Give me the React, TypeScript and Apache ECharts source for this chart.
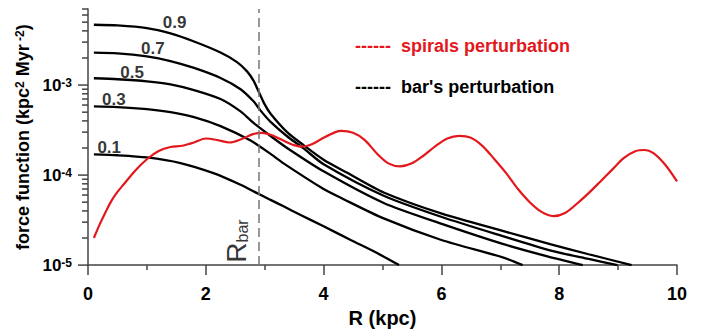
import React, { useEffect, useRef } from 'react';
import * as echarts from 'echarts';

const FONT = '"Liberation Sans", Arial, Helvetica, sans-serif';
const RED = '#e3171c';

const R_BAR = 2.9;
const X_MIN = 0;
const X_MAX = 10;
const X_INTERVAL = 2;
const Y_MIN = 1e-5;
const Y_MAX = 7e-3;
const Y_MAJOR = [1e-5, 1e-4, 1e-3];
const Y_MINOR = [
  2e-5, 3e-5, 4e-5, 5e-5, 6e-5, 7e-5, 8e-5, 9e-5,
  2e-4, 3e-4, 4e-4, 5e-4, 6e-4, 7e-4, 8e-4, 9e-4,
  2e-3, 3e-3, 4e-3, 5e-3, 6e-3, 7e-3,
];

// bar's perturbation, labelled by bar strength
const bar09: [number, number][] = [
  [0.1, 4.68e-3], [0.5, 4.6e-3], [1.0, 4.3e-3], [1.4, 3.75e-3], [1.8, 3.05e-3],
  [2.25, 2.3e-3], [2.53, 1.8e-3], [2.7, 1.42e-3], [2.81, 1.12e-3], [2.9, 8.4e-4],
  [3.0, 6.1e-4], [3.1, 4.8e-4], [3.38, 3.0e-4], [3.66, 2.15e-4], [4.0, 1.48e-4],
  [4.4, 1.06e-4], [5.02, 6.4e-5], [6.02, 3.7e-5], [7.04, 2.4e-5], [7.86, 1.7e-5],
  [8.5, 1.32e-5], [9.23, 1.0e-5],
];
const bar07: [number, number][] = [
  [0.1, 2.29e-3], [0.5, 2.25e-3], [1.0, 2.08e-3], [1.4, 1.85e-3], [1.8, 1.55e-3],
  [2.25, 1.2e-3], [2.59, 9.0e-4], [2.81, 6.6e-4], [2.93, 5.2e-4], [3.1, 3.9e-4],
  [3.38, 2.7e-4], [3.66, 1.98e-4], [4.0, 1.32e-4], [5.02, 5.9e-5], [6.02, 3.4e-5],
  [7.04, 2.1e-5], [7.86, 1.45e-5], [8.5, 1.17e-5], [8.99, 1.0e-5],
];
const bar05: [number, number][] = [
  [0.1, 1.19e-3], [0.5, 1.16e-3], [1.0, 1.1e-3], [1.4, 1.02e-3], [1.8, 8.8e-4],
  [2.25, 7.0e-4], [2.59, 5.1e-4], [2.81, 3.8e-4], [3.1, 2.72e-4], [3.38, 2.0e-4],
  [4.0, 1.1e-4], [5.02, 4.9e-5], [6.02, 2.85e-5], [7.04, 1.72e-5], [7.8, 1.25e-5],
  [8.4, 1.0e-5],
];
const bar03: [number, number][] = [
  [0.1, 5.8e-4], [0.5, 5.7e-4], [1.0, 5.4e-4], [1.4, 5.0e-4], [1.8, 4.4e-4],
  [2.25, 3.5e-4], [2.76, 2.42e-4], [3.1, 1.72e-4], [3.32, 1.35e-4], [4.0, 7.0e-5],
  [4.29, 5.6e-5], [5.02, 3.3e-5], [6.0, 1.9e-5], [7.04, 1.22e-5], [7.38, 1.0e-5],
];
const bar01: [number, number][] = [
  [0.1, 1.7e-4], [0.5, 1.66e-4], [1.0, 1.57e-4], [1.57, 1.36e-4], [2.13, 1.05e-4],
  [2.59, 7.8e-5], [2.87, 6.3e-5], [3.1, 5.3e-5], [3.32, 4.5e-5], [3.61, 3.6e-5],
  [4.0, 2.7e-5], [4.46, 1.9e-5], [4.9, 1.37e-5], [5.28, 1.0e-5],
];

// spirals perturbation
const spirals: [number, number][] = [
  [0.1, 2.0e-5], [0.2, 2.85e-5], [0.3, 3.9e-5], [0.4, 5.2e-5], [0.5, 6.5e-5],
  [0.6, 7.8e-5], [0.8, 1.12e-4], [1.0, 1.5e-4], [1.2, 1.85e-4], [1.4, 2.05e-4],
  [1.6, 2.12e-4], [1.8, 2.3e-4], [2.0, 2.55e-4], [2.2, 2.45e-4], [2.4, 2.3e-4],
  [2.6, 2.5e-4], [2.8, 2.85e-4], [2.95, 2.95e-4], [3.1, 2.8e-4], [3.3, 2.45e-4],
  [3.5, 2.15e-4], [3.65, 2.07e-4], [3.8, 2.2e-4], [4.0, 2.6e-4], [4.2, 3.0e-4],
  [4.3, 3.1e-4], [4.5, 2.95e-4], [4.7, 2.45e-4], [4.9, 1.75e-4], [5.1, 1.35e-4],
  [5.3, 1.25e-4], [5.5, 1.35e-4], [5.7, 1.65e-4], [5.9, 2.1e-4], [6.1, 2.55e-4],
  [6.3, 2.73e-4], [6.5, 2.6e-4], [6.7, 2.1e-4], [6.9, 1.5e-4], [7.1, 1.05e-4],
  [7.3, 7.0e-5], [7.5, 5.0e-5], [7.7, 3.9e-5], [7.9, 3.5e-5], [8.1, 3.8e-5],
  [8.3, 4.8e-5], [8.5, 6.3e-5], [8.7, 8.5e-5], [8.9, 1.15e-4], [9.1, 1.55e-4],
  [9.3, 1.85e-4], [9.45, 1.9e-4], [9.6, 1.75e-4], [9.8, 1.3e-4], [10.0, 8.5e-5],
];

const barSeries = [
  { name: '0.9', data: bar09 },
  { name: '0.7', data: bar07 },
  { name: '0.5', data: bar05 },
  { name: '0.3', data: bar03 },
  { name: '0.1', data: bar01 },
];

// where each curve's label sits, in data coordinates [R, value, text]
const curveLabelAnchors: [number, number, string][] = [
  [1.47, 5.0e-3, '0.9'],
  [1.1, 2.55e-3, '0.7'],
  [0.75, 1.37e-3, '0.5'],
  [0.44, 6.9e-4, '0.3'],
  [0.36, 2.02e-4, '0.1'],
];
const rBarAnchor: [number, number][] = [[2.52, 1.85e-5]];

const LEGEND_TEXTS = ['------  spirals perturbation', "------  bar's perturbation"];

export default function App() {
  const ref = useRef<HTMLDivElement>(null);
  useEffect(() => {
    if (!ref.current) return;
    const chart = echarts.init(ref.current, undefined, { renderer: 'svg' });
    const axisColor = '#444';
    const legendGraphics = [
      {
        id: 'leg0',
        type: 'text',
        left: 355,
        top: 37,
        style: { text: LEGEND_TEXTS[0], fill: RED, font: `bold 18px ${FONT}` },
      },
      {
        id: 'leg1',
        type: 'text',
        left: 355,
        top: 78,
        style: { text: LEGEND_TEXTS[1], fill: '#000', font: `bold 18px ${FONT}` },
      },
    ];
    const option: any = {
      animation: false,
      textStyle: { fontFamily: FONT },
      grid: { left: 88, right: 25, top: 9, bottom: 65 },
      xAxis: {
        type: 'value',
        min: X_MIN,
        max: X_MAX,
        interval: X_INTERVAL,
        name: 'R (kpc)',
        nameLocation: 'middle',
        nameGap: 41,
        nameTextStyle: { fontSize: 20, fontWeight: 'bold', color: '#000', fontFamily: FONT },
        axisLine: { onZero: false, lineStyle: { color: axisColor, width: 1.5 } },
        axisTick: { show: true, length: 10, lineStyle: { color: axisColor, width: 1.5 } },
        minorTick: { show: true, splitNumber: 2, length: 5, lineStyle: { color: axisColor, width: 1.5 } },
        axisLabel: { margin: 20, fontSize: 18, fontWeight: 'bold', color: '#000', fontFamily: FONT },
        splitLine: { show: false },
      },
      yAxis: {
        type: 'log',
        logBase: 10,
        min: Y_MIN,
        max: Y_MAX,
        position: 'left',
        name: 'force function (kpc{sup|2} Myr{sup| -2})',
        nameLocation: 'middle',
        nameGap: 49,
        nameTextStyle: {
          fontSize: 18,
          fontWeight: 'bold',
          color: '#000',
          fontFamily: FONT,
          rich: {
            sup: { fontSize: 12, fontWeight: 'bold', color: '#000', verticalAlign: 'top', fontFamily: FONT },
          },
        },
        axisLine: { show: true, lineStyle: { color: axisColor, width: 1.5 } },
        axisTick: { show: false },
        axisLabel: {
          margin: 16,
          customValues: Y_MAJOR,
          formatter: (v: number) => {
            const e = Math.log10(v);
            if (Math.abs(e - Math.round(e)) > 1e-6) return '';
            return `{b|10}{s|${Math.round(e)}}`;
          },
          rich: {
            b: { fontSize: 17, fontWeight: 'bold', color: '#000', fontFamily: FONT },
            s: { fontSize: 12, fontWeight: 'bold', color: '#000', verticalAlign: 'top', fontFamily: FONT },
          },
        },
        splitLine: { show: false },
      },
      graphic: legendGraphics,
      series: [
        ...barSeries.map((s) => ({
          type: 'line',
          name: s.name,
          data: s.data,
          showSymbol: false,
          smooth: 0.25,
          lineStyle: { color: '#000', width: 2.3 },
          z: 3,
        })),
        {
          type: 'line',
          name: 'spirals',
          data: spirals,
          showSymbol: false,
          smooth: 0.3,
          lineStyle: { color: RED, width: 2.2 },
          z: 4,
          markLine: {
            silent: true,
            symbol: 'none',
            label: { show: false },
            lineStyle: { color: '#777', width: 1.5, type: [9, 5] },
            data: [{ xAxis: R_BAR }],
          },
        },
        {
          type: 'scatter',
          data: curveLabelAnchors,
          symbolSize: 1,
          itemStyle: { color: 'rgba(0,0,0,0)' },
          silent: true,
          z: 5,
          label: {
            show: true,
            position: 'inside',
            formatter: (p: any) => p.value[2],
            fontSize: 17,
            fontWeight: 'bold',
            color: '#000',
            fontFamily: FONT,
          },
        },
        {
          type: 'scatter',
          data: rBarAnchor,
          symbolSize: 1,
          itemStyle: { color: 'rgba(0,0,0,0)' },
          silent: true,
          z: 5,
          label: {
            show: true,
            position: 'inside',
            rotate: 90,
            formatter: '{R|R}{sub|bar}',
            rich: {
              R: { fontSize: 28, color: '#000', fontFamily: FONT },
              sub: { fontSize: 16, color: '#000', verticalAlign: 'bottom', fontFamily: FONT },
            },
          },
        },
      ],
    };
    chart.setOption(option);

    // y-axis log ticks (major + 2..9 minor), placed through the axis scale
    const tickEls: any[] = [];
    const addTicks = (values: number[], len: number, prefix: string) => {
      values.forEach((v, i) => {
        const p = chart.convertToPixel({ xAxisIndex: 0, yAxisIndex: 0 } as any, [X_MIN, v]) as number[];
        if (!p || !isFinite(p[0]) || !isFinite(p[1])) return;
        tickEls.push({
          id: `${prefix}${i}`,
          type: 'line',
          silent: true,
          shape: { x1: p[0] - len, y1: p[1], x2: p[0], y2: p[1] },
          style: { stroke: axisColor, lineWidth: 1.5 },
          z: 10,
        });
      });
    };
    addTicks(Y_MAJOR, 10, 'maj');
    addTicks(Y_MINOR, 6, 'min');
    chart.setOption({ graphic: [...legendGraphics, ...tickEls] });

    return () => chart.dispose();
  }, []);
  return (
    <div
      ref={ref}
      style={{ position: 'fixed', left: 0, top: 0, width: 702, height: 333, background: '#fff' }}
    />
  );
}
